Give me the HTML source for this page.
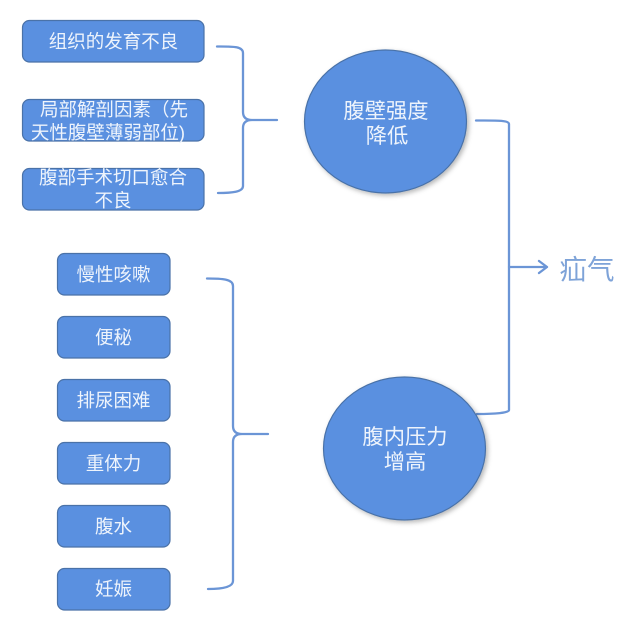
<!DOCTYPE html>
<html lang="zh">
<head>
<meta charset="utf-8">
<style>
html,body{margin:0;padding:0;background:#fff}
svg{display:block}
text{font-family:"Liberation Sans","Noto Sans CJK SC",sans-serif;text-anchor:middle}
.b{fill:#5a90e0;stroke:#4a72a8;stroke-width:1.2}
.t{fill:#eef4fc;font-size:18.5px}
.c{fill:#eef4fc;font-size:21.3px}
.l{fill:none;stroke:#6b95d6;stroke-width:2.3;stroke-linecap:round;stroke-linejoin:round}
</style>
</head>
<body>
<svg width="631" height="620" viewBox="0 0 631 620" xmlns="http://www.w3.org/2000/svg">
<defs>
<filter id="s" x="-10%" y="-10%" width="125%" height="125%">
<feDropShadow dx="2" dy="2" stdDeviation="2.5" flood-color="#000" flood-opacity=".28"/>
</filter>
</defs>

<rect class="b" x="22.5" y="20.5" width="181.500" height="41.500" rx="7"/>
<rect class="b" x="22.500" y="99.500" width="181.500" height="41.500" rx="7"/>
<rect class="b" x="22.500" y="168.500" width="181.500" height="41.500" rx="7"/>
<text class="t" x="113.500" y="48">组织的发育不良</text>
<text class="t" x="114" y="116">局部解剖因素（先</text>
<text class="t" x="108" y="139">天性腹壁薄弱部位)</text>
<text class="t" x="113" y="184">腹部手术切口愈合</text>
<text class="t" x="113" y="207">不良</text>

<rect class="b" x="57.500" y="253.500" width="112.500" height="41.500" rx="7"/>
<rect class="b" x="57.500" y="316.500" width="112.500" height="41.500" rx="7"/>
<rect class="b" x="57.500" y="379.500" width="112.500" height="41.500" rx="7"/>
<rect class="b" x="57.500" y="442.500" width="112.500" height="41.500" rx="7"/>
<rect class="b" x="57.500" y="505.500" width="112.500" height="41.500" rx="7"/>
<rect class="b" x="57.500" y="568.500" width="112.500" height="41.500" rx="7"/>
<text class="t" x="113.500" y="281">慢性咳嗽</text>
<text class="t" x="113.500" y="344">便秘</text>
<text class="t" x="113.500" y="407">排尿困难</text>
<text class="t" x="113.500" y="470">重体力</text>
<text class="t" x="113.500" y="533">腹水</text>
<text class="t" x="113.500" y="595.500">妊娠</text>

<path class="l" d="M217 46.500C232 46.500 243 46 243 53V112Q243 120 252 120H277M252 120Q243 120 243 128V186C243 192 232 193 218 193"/>
<path class="l" d="M207 278.500C222 278.500 233 279 233 286V426Q233 434 242 434H268M242 434Q233 434 233 442V581C233 587 222 589 208 589"/>
<path class="l" d="M476 120.500C495 120.500 509 120 509 124V410C509 413 495 414 477 414"/>
<path class="l" d="M509 267H547M539 261L547 267L539 273"/>

<ellipse class="b" cx="385.500" cy="121.500" rx="81" ry="71.500" filter="url(#s)"/>
<ellipse class="b" cx="404.500" cy="448.500" rx="81" ry="71.500" filter="url(#s)"/>
<text class="c" x="386" y="118">腹壁强度</text>
<text class="c" x="387" y="143">降低</text>
<text class="c" x="405" y="444">腹内压力</text>
<text class="c" x="405" y="469">增高</text>

<text x="587" y="279" font-size="27.500" style="fill:#7ea3d8">疝气</text>
</svg>
</body>
</html>
